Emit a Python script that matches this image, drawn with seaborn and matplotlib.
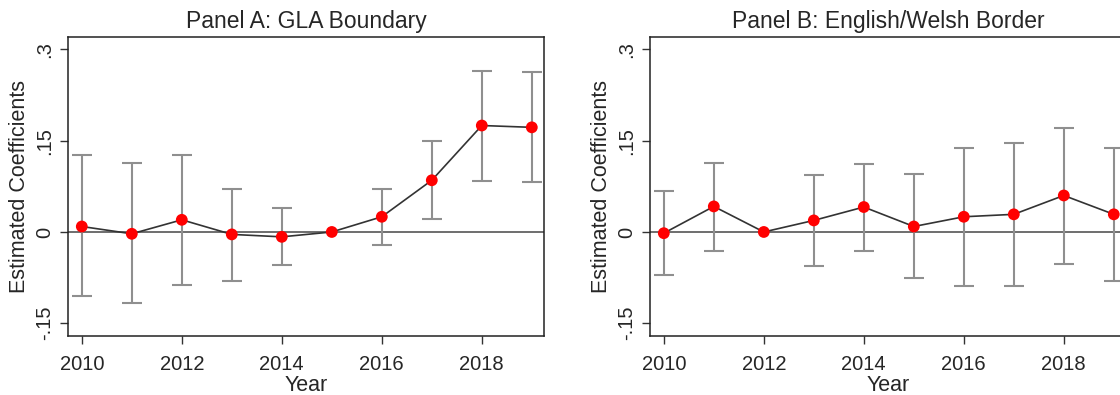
import numpy as np
import pandas as pd
import matplotlib
matplotlib.use("Agg")
import matplotlib.pyplot as plt
import seaborn as sns

# Event-study coefficients (reference year has no CI)
years = [2010, 2011, 2012, 2013, 2014, 2015, 2016, 2017, 2018, 2019]

gla_coef = [0.009, -0.003, 0.020, -0.004, -0.008, 0.000, 0.025, 0.085, 0.175, 0.172]
gla_lo = [-0.106, -0.117, -0.087, -0.080, -0.055, np.nan, -0.022, 0.021, 0.084, 0.082]
gla_hi = [0.126, 0.113, 0.126, 0.071, 0.039, np.nan, 0.071, 0.149, 0.264, 0.263]

wales_coef = [-0.002, 0.042, 0.000, 0.019, 0.041, 0.009, 0.025, 0.029, 0.060, 0.029]
wales_lo = [-0.070, -0.031, np.nan, -0.056, -0.032, -0.076, -0.088, -0.089, -0.053, -0.080]
wales_hi = [0.067, 0.113, np.nan, 0.094, 0.112, 0.096, 0.138, 0.146, 0.171, 0.138]

titles = ["Panel A: GLA Boundary", "Panel B: English/Welsh Border"]
yticks = [-0.15, 0, 0.15, 0.3]
ytick_labels = ["-.15", "0", ".15", ".3"]
xticks = [2010, 2012, 2014, 2016, 2018]

sns.set_theme(style="white")
plt.rcParams["font.family"] = ["Liberation Sans", "DejaVu Sans"]

fig = plt.figure(figsize=(11.2, 3.95), dpi=100)
W, H = 1120, 395
# panel B runs past the right edge, as in the (cropped) original
boxes = [(68.3, 37.3, 476, 298.7), (650.3, 37.3, 476, 298.7)]

panels = [
    (gla_coef, gla_lo, gla_hi),
    (wales_coef, wales_lo, wales_hi),
]

for (x0, top, w, h), (coef, lo, hi), title in zip(boxes, panels, titles):
    ax = fig.add_axes([x0 / W, (H - top - h) / H, w / W, h / H])
    df = pd.DataFrame({"year": years, "coef": coef, "lo": lo, "hi": hi})

    ax.axhline(0, color="#555555", lw=1.2, zorder=1)

    ci = df.dropna()
    ax.errorbar(ci["year"], ci["coef"],
                yerr=[ci["coef"] - ci["lo"], ci["hi"] - ci["coef"]],
                fmt="none", ecolor="#8f8f8f", elinewidth=1.5,
                capsize=7, capthick=1.5, zorder=2)

    sns.lineplot(data=df, x="year", y="coef", ax=ax, color="#333333",
                 lw=1.2, zorder=3)
    sns.scatterplot(data=df, x="year", y="coef", ax=ax, color="#ff0000",
                    s=72, edgecolor="none", zorder=4)

    ax.set_xlim(2009.73, 2019.25)
    ax.set_ylim(-0.171, 0.32)
    ax.set_xticks(xticks)
    ax.set_xticklabels([str(t) for t in xticks], fontsize=14.5)
    ax.set_yticks(yticks)
    ax.set_yticklabels(ytick_labels, fontsize=14.5, rotation=90, va="center")
    ax.tick_params(axis="both", direction="out", length=6, width=1.0,
                   color="#333333", left=True, bottom=True, pad=4)
    ax.tick_params(axis="x", pad=7.5)
    for s in ax.spines.values():
        s.set_color("#222222")
        s.set_linewidth(1.1)

    ax.set_xlabel("Year", fontsize=15.5, labelpad=1)
    ax.set_ylabel("Estimated Coefficients", fontsize=15.5, labelpad=4)
    ax.set_title(title, fontsize=16.5, pad=7)

fig.savefig("out.png", dpi=100, facecolor="white")
